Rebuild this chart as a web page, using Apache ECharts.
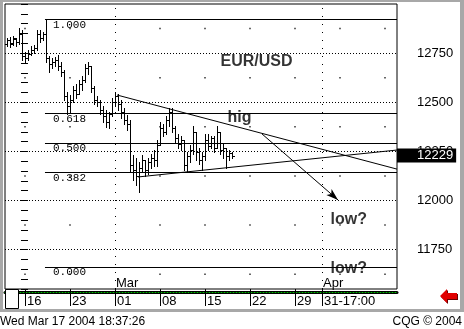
<!DOCTYPE html>
<html><head><meta charset="utf-8">
<script src="https://cdn.jsdelivr.net/npm/echarts@6/dist/echarts.min.js"></script>
<style>html,body{margin:0;padding:0;background:#fff;overflow:hidden}#c{width:464px;height:329px}</style>
</head><body><div id="c"></div>
<script>
// ---- data ----
// OHLC bars: [open, high, low, close], three bars per trading day
const ohlc = [
[12796,12826,12786,12816],[12816,12831,12780,12796],[12801,12836,12791,12826],[12821,12826,12786,12806],
[12806,12877,12796,12852],[12846,12867,12714,12735],[12735,12755,12704,12725],[12725,12765,12714,12745],
[12745,12786,12740,12765],[12765,12791,12750,12775],[12775,12867,12765,12846],[12846,12867,12806,12826],
[12826,12857,12816,12846],[12846,12923,12704,12725],[12725,12735,12654,12694],[12694,12725,12674,12704],
[12704,12730,12684,12714],[12714,12740,12664,12684],[12684,12704,12633,12654],[12654,12664,12511,12532],
[12532,12552,12440,12481],[12481,12537,12451,12511],[12511,12582,12501,12562],[12562,12593,12522,12542],
[12542,12613,12542,12593],[12593,12633,12562,12613],[12613,12694,12603,12674],[12674,12704,12643,12684],
[12684,12684,12552,12572],[12572,12582,12491,12511],[12511,12532,12481,12501],[12501,12511,12440,12461],
[12461,12481,12400,12430],[12430,12461,12374,12400],[12400,12451,12369,12440],[12440,12522,12430,12501],
[12501,12552,12481,12532],[12532,12542,12461,12491],[12491,12511,12420,12451],[12451,12471,12390,12410],
[12410,12435,12359,12390],[12390,12410,12146,12181],[12181,12232,12105,12156],[12156,12217,12080,12126],
[12126,12197,12044,12166],[12166,12232,12146,12207],[12207,12207,12126,12156],[12156,12217,12136,12197],
[12197,12237,12166,12217],[12217,12258,12176,12207],[12207,12308,12176,12283],[12283,12400,12283,12369],
[12369,12390,12329,12349],[12349,12430,12339,12410],[12410,12471,12379,12451],[12451,12471,12349,12369],
[12369,12379,12298,12319],[12319,12339,12268,12288],[12288,12329,12258,12308],[12308,12308,12156,12181],
[12181,12247,12146,12227],[12227,12283,12197,12258],[12258,12379,12237,12349],[12349,12349,12207,12247],
[12247,12268,12187,12207],[12207,12247,12156,12227],[12227,12339,12207,12308],[12308,12339,12258,12278],
[12278,12329,12268,12319],[12319,12329,12247,12268],[12268,12379,12268,12349],[12349,12349,12237,12258],
[12258,12288,12217,12268],[12268,12268,12166,12227],[12227,12258,12207,12242],[12242,12247,12217,12229]
];
const barDay0 = -2;          // trading-day index of first bar (Feb 16 = 0)
const barsPerDay = 3;
const tickDays = [0,5,10,15,20,25,30,33];
const tickLabels = ['16','23','01','08','15','22','29','31-17:00'];
const monthDays = [10,33];
const monthLabels = ['Mar','Apr'];
const priceTicks = [11750,12000,12250,12500,12750];
const dotDays = [0,5,15,20,25,30,35,40];
const dotPrices = [11625,11875,12125,12375,12625,12875];
const fibHigh = 12923, fibLow = 11663, fibStartDay = 2.22;
const fibRatios = [1,0.618,0.5,0.382,0];
const fibLabels = ['1.000','0.618','0.500','0.382','0.000'];
const lastPrice = 12229;
const upperTrend = [[10.22,12537],[41.33,12160]];
const lowerTrend = [[12.56,12120],[41.33,12257]];
const arrowLine = [[26.33,12339],[34.78,12003]];
const notes = [[21.67,12705,'EUR/USD'],[22.44,12420,'hig'],[33.89,11901,'low?'],[33.89,11652,'low?']];
const X_MIN = -2.222, X_MAX = 41.333, Y_MIN = 11550, Y_MAX = 13000;

const FONT = "'Liberation Sans', Arial, sans-serif";
const MONO = "'Liberation Mono', 'DejaVu Sans Mono', monospace";

const barData = ohlc.map((b,i)=>[barDay0 + i/barsPerDay, b[0], b[1], b[2], b[3]]);
const dotData = [];
dotDays.forEach(d=>dotPrices.forEach(p=>dotData.push([d,p])));

const gridLines = priceTicks.map(p=>({yAxis:p, lineStyle:{type:[1,2], color:'#000', width:1}}))
  .concat(monthDays.map(d=>({xAxis:d, lineStyle:{type:[1,7], color:'#000', width:1}})));

const fibLines = fibRatios.map((r,i)=>{
  const v = fibLow + r*(fibHigh-fibLow);
  return [{coord:[fibStartDay, v], label:{show:true, position:'insideStartBottom', distance:[8,0],
            formatter:fibLabels[i], color:'#000', fontSize:11, fontFamily:MONO}},
          {coord:[X_MAX, v]}];
});
const trendLines = [
  [{coord:upperTrend[0]},{coord:upperTrend[1]}],
  [{coord:lowerTrend[0]},{coord:lowerTrend[1]}],
  [{coord:arrowLine[0], symbol:'none'},{coord:arrowLine[1], symbol:'arrow', symbolSize:[6,12]}]
];

const chart = echarts.init(document.getElementById('c'), null, {renderer:'canvas'});
chart.setOption({
  animation:false,
  backgroundColor:'#fff',
  grid:{left:5, right:67, top:4, bottom:40, show:true, borderColor:'#000', borderWidth:1, backgroundColor:'#fff'},
  title:[
    {text:'Wed Mar 17 2004 18:37:26', left:0, top:316, padding:0, textStyle:{fontSize:12, fontWeight:'normal', fontFamily:FONT, color:'#000'}},
    {text:'CQG © 2004', right:2, top:316, padding:0, textStyle:{fontSize:12, fontWeight:'normal', fontFamily:FONT, color:'#000'}}
  ],
  xAxis:[
    {type:'value', min:X_MIN, max:X_MAX, position:'bottom', splitLine:{show:false}, axisLine:{show:false},
     axisTick:{show:true, customValues:tickDays, length:17, lineStyle:{color:'#000', width:1}},
     axisLabel:{show:true, customValues:tickDays, margin:6, align:'left', padding:[0,0,0,2],
       formatter:v=>{const i=tickDays.indexOf(v); return i>=0?tickLabels[i]:'';},
       fontSize:13, fontFamily:FONT, color:'#000'}},
    {type:'value', min:X_MIN, max:X_MAX, position:'bottom', splitLine:{show:false}, axisLine:{show:false}, axisTick:{show:false},
     axisLabel:{show:true, inside:true, customValues:monthDays, margin:-1, align:'left', padding:[0,0,0,1],
       formatter:v=>{const i=monthDays.indexOf(v); return i>=0?monthLabels[i]:'';},
       fontSize:13, fontFamily:FONT, color:'#000'}},
    {type:'value', min:X_MIN, max:X_MAX, position:'bottom', offset:3, splitLine:{show:false},
     axisLine:{show:true, lineStyle:{color:'#000', width:3}}, axisTick:{show:false}, axisLabel:{show:false}},
    {type:'value', min:X_MIN, max:X_MAX, position:'bottom', offset:3, splitLine:{show:false},
     axisLine:{show:true, lineStyle:{color:'#00c000', width:1, type:[1,2]}}, axisTick:{show:false}, axisLabel:{show:false}}
  ],
  yAxis:[
    {type:'value', position:'right', min:Y_MIN, max:Y_MAX, interval:50, splitLine:{show:false}, axisLine:{show:false},
     axisTick:{show:true, inside:true, length:4, lineStyle:{color:'#000'}},
     axisLabel:{margin:20, fontSize:13, fontFamily:FONT, color:'#000',
       formatter:v=>priceTicks.indexOf(v)>=0?String(v):''}},
    {type:'value', position:'left', min:Y_MIN, max:Y_MAX, interval:50, splitLine:{show:false}, axisLine:{show:false},
     axisTick:{show:true, inside:true, length:3, lineStyle:{color:'#000'}}, axisLabel:{show:false}}
  ],
  series:[
    {type:'scatter', name:'grid', z:1, silent:true, data:dotData, symbol:'rect', symbolSize:1.5,
     itemStyle:{color:'#000'},
     markLine:{silent:true, symbol:'none', label:{show:false}, data:gridLines}},
    {type:'custom', name:'EUR/USD', z:2, data:barData, encode:{x:0, y:[1,2,3,4]},
     renderItem:(params, api)=>{
       const day = api.value(0);
       const po = api.coord([day, api.value(1)]);
       const ph = api.coord([day, api.value(2)]);
       const pl = api.coord([day, api.value(3)]);
       const pc = api.coord([day, api.value(4)]);
       const x = Math.round(po[0]);
       return {type:'group', children:[
         {type:'rect', shape:{x:x, y:Math.round(ph[1]), width:1, height:Math.max(1, Math.round(pl[1])-Math.round(ph[1])+1)}, style:{fill:'#000'}},
         {type:'rect', shape:{x:x-2, y:Math.round(po[1]), width:2, height:1}, style:{fill:'#000'}},
         {type:'rect', shape:{x:x+1, y:Math.round(pc[1]), width:2, height:1}, style:{fill:'#000'}}
       ]};
     }},
    {type:'scatter', name:'notes', z:4, silent:true, data:notes, symbolSize:1, itemStyle:{color:'transparent'},
     label:{show:true, position:'right', distance:0, formatter:p=>p.value[2],
       fontSize:16, fontWeight:'bold', fontFamily:FONT, color:'#000'},
     markLine:{silent:true, symbol:'none', label:{show:false},
       lineStyle:{color:'#000', width:1, type:'solid'},
       data: fibLines.concat(trendLines)}},
    {type:'scatter', name:'last', z:6, silent:true, data:[[X_MAX, lastPrice]], symbolSize:0, itemStyle:{color:'#000', opacity:1},
     label:{show:true, position:'right', distance:0, formatter:p=>String(p.value[1]), color:'#fff', opacity:1,
       backgroundColor:'#000', padding:[1,3,0,20], fontSize:13, fontFamily:FONT},
     labelLayout:{hideOverlap:false}, clip:false}
  ],
  graphic:[
    {type:'rect', shape:{x:0, y:0, width:464, height:2}, style:{fill:'#a8a8a8'}, z:100},
    {type:'rect', shape:{x:0, y:0, width:3, height:312}, style:{fill:'#a8a8a8'}, z:100},
    {type:'rect', shape:{x:460, y:0, width:4, height:312}, style:{fill:'#a8a8a8'}, z:100},
    {type:'rect', shape:{x:0, y:309, width:464, height:3}, style:{fill:'#a8a8a8'}, z:100},
    {type:'rect', shape:{x:5.5, y:289.5, width:13, height:19}, style:{fill:'#fff', stroke:'#000', lineWidth:1}, z:100},
    {type:'polygon', shape:{points:[[441,297],[448,290],[448,294],[458,294],[458,300],[448,300],[448,304]]}, style:{fill:'#600'}, z:100},
    {type:'polygon', shape:{points:[[440,296],[447,289],[447,293],[457,293],[457,299],[447,299],[447,303]]}, style:{fill:'#e00000'}, z:101}
  ]
});
</script></body></html>
